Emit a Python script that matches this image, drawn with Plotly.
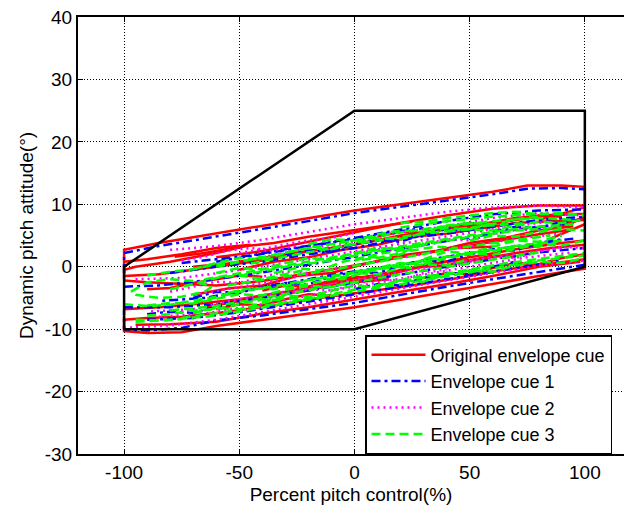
import plotly.graph_objects as go

# ---------------- data ----------------
x_ticks = [-100, -50, 0, 50, 100]
x_tick_text = ["-100", "-50", "0", "50", "100"]
y_ticks = [-30, -20, -10, 0, 10, 20, 30, 40]
y_tick_text = ["-30", "-20", "-10", "0", "10", "20", "30", "40"]

env_x = [-100, -100, 0, 100, 100, 0, -100]
env_y = [-10, 0, 25, 25, 0, -10, -10]

# Original envelope cue (strokes separated by None)
red_x = [-100, -100, -85, -60, -40, -20, 0, 20, 40, 60, 75, 90, 100, 100, None,
         100, 100, 80, 60, 40, 20, 0, -20, -40, -60, -75, -90, -100, -100, None,
         -60, -40, -20, 0, 20, 40, 60, 80, 100, 100, 85, 70, 50, 30, 10, -10, -30, -55, -70, None,
         -100, -90, -75, -60, -45, -60, -80, -95, -100, None,
         -100, -85, -70, -55, -40, -20, 0, 20, 40, 60, 80, 95, None,
         95, 80, 60, 40, 20, 0, -20, -40, -60, -75, -90, -100, None,
         -100, -85, -70, -50, -30, -10, 10, 30, 50, 70, 90, 100, None,
         100, 85, 65, 45, 25, 5, -15, -35, -55, -75, -90, -100, None,
         -95, -80, -60, -40, -20, 0, 20, 40, 60, 80, 98, None,
         -70, -55, -40, -25, -10, 5, 20, 35, 50, 65, 80, 95, None,
         -50, -35, -20, -5, 10, 25, 40, 55, 70, 85, 100, None,
         100, 85, 70, 55, 40, 25, 10, -5, -20, -35, -50, -65, None,
         80, 95, 100, None, 85, 100, None, 0, 15, None, 45, 60, None, -25, -10, None,
         -40, -30, -20, -10, 0, 10, 20, 30, 40, 50, 60, 70, None,
         -90, -80, -70, -60, -50, -40, None,
         10, 20, 30, 40, 50, 60, 70, 80, 90, None,
         30, 40, 50, 60, 70, 80, 90, 100, None,
         -60, -50, -40, -30, -20, -10, None,
         88, 96, 100, 92, 86, None,
         -78, -65, -50, -35, -20, -5, 10, 25]
red_y = [-2, 2.7, 3.8, 5.3, 6.5, 7.8, 9, 10, 11, 12, 13, 13, 12.8, 10, None,
         2, -0.3, -1.5, -2.8, -4, -5.3, -6.5, -7.5, -8.5, -9.5, -10.5, -10.6, -10.3, -8, None,
         1.5, 2.5, 4, 5.5, 7, 8.2, 9.3, 9.8, 9.8, 8.5, 8.3, 7.8, 6.5, 5.5, 4.2, 3, 2, 0.5, 0, None,
         0.8, 1.2, 2, 3, 3.5, 2.2, 0.8, 0, -0.5, None,
         -1.5, -1.2, -0.5, 0.2, 1, 2.5, 3.5, 5, 6, 7, 8, 8.5, None,
         6, 5.2, 4, 2.8, 1.5, 0.2, -1, -2.3, -3, -2.8, -2.5, -2.2, None,
         -6.8, -6.5, -6, -5.2, -4, -2.5, -1.3, 0.2, 1.5, 2.8, 3.8, 4.2, None,
         1.2, 0.5, -0.5, -1.8, -3, -4, -5, -6.2, -7.2, -8, -8.2, -8.5, None,
         -9.3, -9.2, -8.8, -7.5, -6.5, -5.2, -4, -2.8, -1.5, 0, 0.8, None,
         -4.5, -3.5, -3, -1.5, -1, 0.5, 1.8, 2.5, 3.8, 4.6, 5.8, 6.5, None,
         -0.5, 0.8, 1.5, 2.7, 3.5, 4.8, 5.3, 6.2, 7, 7.3, 7.5, None,
         3.5, 3, 2.2, 1.2, 0.8, -0.3, -1.8, -2.5, -3.8, -4.5, -5.5, -6.5, None,
         7.5, 9, 9.5, None, 4.5, 6.8, None, -2.5, -2, None, 3, 3.2, None, -3.5, -3, None,
         -3.8, -3, -3.2, -2.2, -1.6, -1.8, -0.6, 0, 0.2, 1, 1.8, 1.6, None,
         -3.6, -3.4, -2.6, -2, -1.4, -1.6, None,
         4.8, 5.6, 5.4, 6.2, 7, 6.8, 7.6, 8.2, 8, None,
         -1.8, -1, -1.2, -0.2, 0.6, 0.4, 1.4, 2, None,
         -6.8, -6, -6.2, -5.2, -4.4, -4.6, None,
         6.2, 7.4, 8, 6.6, 6, None,
         1.6, 2.2, 3.2, 3.8, 4.8, 5.6, 6.4, 7.2]

# Envelope cue 1
blue_x = [-100, -100, -85, -60, -40, -20, 0, 20, 40, 60, 75, 90, 100, None,
          100, 80, 60, 40, 20, 0, -20, -40, -60, -75, -90, -100, -100, None,
          -100, -80, -60, -40, -20, 0, 20, 40, 60, 80, 100, None,
          -100, -85, -65, -45, -25, -5, 15, 35, 55, 75, 95, None,
          -60, -40, -20, 0, 20, 40, 60, 80, 100, None,
          95, 75, 55, 35, 15, -5, -25, -45, -65, -85, None,
          -90, -70, -50, -30, -10, 10, 30, 50, 70, 90, None,
          -80, -60, -40, -20, 0, 20, 40, 60, 80, 100, None,
          -70, -60, -50, -40, -30, -20, -10, 0, 10, 20, 30, 40, 50, 60, 70, 80, 90, None,
          -30, -20, -10, 0, 10, 20, 30, 40, 50, None,
          0, 10, 20, 30, 40, 50, 60, 70, None,
          60, 70, 80, 90, 100, None,
          -90, -80, -70, -60, -50, None,
          -75, -60, -45, -30, -15, 0, 15, 30]
blue_y = [-1, 2.2, 3.3, 4.8, 6, 7.3, 8.6, 9.6, 10.6, 11.6, 12.5, 12.6, 12.4, None,
          0.3, -0.8, -2, -3.2, -4.5, -5.8, -6.8, -7.8, -8.6, -9.8, -10.2, -10, -7, None,
          -6.5, -6.5, -6, -5, -3.8, -2.5, -1.2, 0, 1.2, 2.3, 3, None,
          -3.2, -3, -2.2, -1.2, 0, 1.3, 2.5, 3.8, 5, 6.2, 7, None,
          0.8, 2, 3.3, 4.6, 6, 7.3, 8.4, 9, 9.2, None,
          4.5, 3.5, 2.5, 1.3, 0, -1, -2.3, -3.7, -5, -5.5, None,
          -8.5, -8.2, -7.3, -6.2, -5, -3.8, -2.6, -1.3, -0.2, 1, None,
          -1, 0, 0.8, 2, 3, 4.5, 5.3, 6.4, 7.5, 8, None,
          -5, -4, -4.2, -3.2, -2.6, -2.8, -1.6, -0.8, -1, 0.2, 1, 0.8, 2, 2.8, 2.6, 3.8, 4.4, None,
          1.8, 2.6, 2.4, 3.6, 4.2, 4, 5.2, 6, 5.8, None,
          -3.6, -2.8, -3, -1.8, -1, -1.2, 0, 0.8, None,
          5.6, 6.4, 6.2, 7.2, 7.6, None,
          -7.6, -7.2, -7.4, -6.4, -5.8, None,
          0.6, 1.2, 1.8, 2.8, 3.6, 4.4, 5.4, 6.2]

# Envelope cue 2
mag_x = [-80, -60, -40, -20, 0, 20, 40, 60, 80, 100, None,
         -100, -80, -60, -40, -20, 0, 20, 40, 60, 80, 100, None,
         -95, -75, -55, -35, -15, 5, 25, 45, 65, 85, None,
         90, 70, 50, 30, 10, -10, -30, -50, -70, -90, None,
         -70, -50, -30, -10, 10, 30, 50, 70, 90, None,
         -40, -20, 0, 20, 40, 60, 80, 100, None,
         -85, -65, -45, -25, -5, 15, 35, 55, 75, 95, None,
         -60, -50, -40, -30, -20, -10, 0, 10, 20, 30, 40, None,
         0, 10, 20, 30, 40, 50, 60, 70, 80, 90, None,
         -80, -70, -60, -50, -40, -30, -20, None,
         40, 50, 60, 70, 80, 90, 100, None,
         -50, -40, -30, -20, -10, 0, None,
         -75, -65, -55, -45, -35, -25]
mag_y = [2.7, 3.3, 4.3, 5.5, 6.8, 7.8, 8.8, 9.5, 9.8, 9.5, None,
         -9.8, -9.4, -8.5, -7.3, -6, -4.8, -3.5, -2.2, -1, 0.2, 1, None,
         -2, -1.8, -0.8, 0.3, 1.5, 2.8, 4, 5.2, 6.3, 7.2, None,
         3, 2, 1, -0.2, -1.5, -2.8, -4, -5.2, -6.8, -7.2, None,
         -4.5, -3.3, -2, -0.5, 0.8, 2, 3.3, 4.5, 5.3, None,
         1.5, 3, 4, 5.5, 6.5, 7.8, 8.6, 8.2, None,
         -8, -7.5, -6.3, -5, -3.5, -2.2, -1, 0.3, 1.5, 2.3, None,
         -6, -5.2, -5.4, -4.4, -3.6, -3.8, -2.8, -2, -2.2, -1, -0.4, None,
         2, 2.8, 2.6, 3.6, 4.4, 4.2, 5.2, 6, 5.8, 6.6, None,
         -4, -3.2, -2.4, -2.6, -1.6, -0.8, -1, None,
         -0.2, 0.8, 1.6, 1.4, 2.4, 3.2, 3, None,
         2.2, 2.8, 3.6, 4.2, 4.6, 5.4, None,
         1, 1.6, 2.6, 3, 2.6, 3.4]

# Envelope cue 3
green_x = [-97, -90, -80, -70, -62, -65, -75, -85, -95, -97, None,
           -60, -40, -20, 0, 20, 40, 60, 80, 95, None,
           -95, -80, -60, -40, -20, 0, 20, 40, 60, 80, 100, None,
           -65, -45, -25, -5, 15, 35, 55, 75, 95, None,
           90, 70, 50, 30, 10, -10, -30, -50, -70, None,
           -80, -60, -40, -20, 0, 20, 40, 60, 80, None,
           -50, -30, -10, 10, 30, 50, 70, 90, None,
           -45, -25, -5, 15, 35, 55, 75, None,
           -55, -35, -15, 5, 25, 45, 65, 85, None,
           -75, -55, -35, -15, 5, 25, 45, 65, 85, 100, None,
           -30, -10, 10, 30, 50, 70, None,
           -95, -85, -75, None,
           20, 40, 60, 80, 100, None,
           -90, -80, -70, -60, -50, -40, -30, -20, -10, 0, None,
           0, 10, 20, 30, 40, 50, 60, 70, 80, 90, 100, None,
           -60, -50, -40, -30, -20, -10, 0, 10, 20, 30, None,
           30, 40, 50, 60, 70, 80, 90, None,
           -40, -30, -20, -10, 0, 10, 20, 30, 40, 50, 60, None,
           -20, -10, 0, 10, 20, 30, 40, 50, 60, 70, 80, None,
           -70, -60, -50, -40, -30, -20, -10, None,
           10, 20, 30, 40, 50, 60, 70, 80, 90, 100, None,
           -90, -80, -70, -60, -50, -40, -30, None,
           -35, -25, -15, -5, 5, 15, 25, 35, 45, None,
           40, 50, 60, 70, 80, 90, 100, None,
           -10, 0, 10, 20, 30, 40, 50, None,
           0, 10, 20, 30, 20, 10, 0, None,
           50, 60, 70, 80, 90, 100, None,
           -100, -90, -80, -70, -60, -50, None,
           -55, -45, -35, -25, -15, -5, 5, 15, 25, None,
           60, 70, 80, 90, None,
           -80, -70, -60, -50, -40, -30, -20, None,
           -70, -60, -50, -40, -30, -20, -10, 0, 10, 20, 30, 40, 50, 60, None,
           -90, -80, -70, -60, -50, -40, None,
           20, 30, 40, 50, 60, 70, 80, 90, 100]
green_y = [-4, -2.5, -2, -2.3, -3.2, -4, -4.8, -5, -4.5, -4, None,
           0, 1.5, 3, 4.2, 5.5, 6.5, 7.3, 7.8, 7.5, None,
           -8.8, -8.5, -7.8, -6.5, -5.3, -4, -2.8, -1.5, -0.3, 1, 1.8, None,
           -2, -0.8, 0.5, 1.8, 3, 4.2, 5.3, 6.3, 6.8, None,
           4.2, 3.3, 2.2, 1, -0.3, -1.5, -2.8, -4, -5.8, None,
           -7, -6.3, -5, -3.8, -2.5, -1.2, 0, 1.2, 2.3, None,
           -1.5, 0, 1, 2.5, 3.5, 4.8, 5.8, 6.3, None,
           0.5, 2, 3.3, 4.5, 5.5, 6.5, 7, None,
           -3, -1.8, -0.8, 0.5, 1.8, 3, 4, 5, None,
           -8.2, -7.2, -6, -4.8, -3.3, -2, -0.8, 0.5, 1.5, 2.2, None,
           -3.5, -2, -0.5, 0.8, 2, 3.2, None,
           -8.5, -8.6, -8.4, None,
           6.3, 7.3, 8, 8.5, 8.3, None,
           -6.2, -5.8, -5.9, -5.2, -4.4, -4.6, -3.7, -3.1, -3.3, -2.2, None,
           -0.8, -0.2, 0.6, 0.4, 1.4, 2.1, 1.9, 2.9, 3.6, 3.4, 4.2, None,
           -1, -0.2, -0.4, 0.6, 1.4, 1.2, 2.2, 3, 2.8, 3.8, None,
           1.2, 2.4, 2.2, 3.2, 4.2, 4, 5, None,
           -5.6, -4.6, -4.8, -3.8, -3, -3.2, -2.2, -1.4, -1.6, -0.6, 0.2, None,
           3.6, 4.4, 4.2, 5.2, 5.8, 5.6, 6.6, 7, 6.8, 7.6, 8, None,
           -7.4, -6.6, -6.8, -5.8, -5, -5.2, -4.2, None,
           -3, -2.2, -2.4, -1.2, -0.6, -0.8, 0.2, 0.8, 0.6, 1.4, None,
           -7.8, -7.6, -7, -6.8, -6, -5.2, -5.4, None,
           -1, -0.2, -0.6, 0.8, 1.6, 1.4, 2.6, 3.2, 3, None,
           5.6, 6, 5.8, 6.6, 7.2, 7, 7.6, None,
           -1.6, -1, -1.2, -0.2, 0.4, 0.2, 1.2, None,
           1, 2, 2.6, 3.6, 2.2, 1.4, 1, None,
           4.2, 5, 4.8, 5.6, 6, 5.8, None,
           -6, -6.3, -6.1, -5.5, -4.8, -3.8, None,
           -4.2, -3.4, -3.6, -2.6, -1.8, -2, -0.8, 0, -0.2, None,
           2.4, 3.4, 3.2, 4, None,
           -3.6, -2.8, -1.8, -1.4, -2, -1.2, -0.4, None,
           -0.4, 0.6, 1.4, 1.2, 2.2, 3, 2.8, 3.8, 4.6, 4.4, 5.4, 6.2, 6, 7, None,
           -1.4, -0.8, -0.4, 0.4, 0.8, 1.6, None,
           7, 7.2, 7.8, 8.2, 8.6, 8.8, 8.4, 8.6, 8.2]

series_names = ["Original envelope cue", "Envelope cue 1", "Envelope cue 2", "Envelope cue 3"]

# ---------------- figure ----------------
FONT = "Liberation Sans, Arial, sans-serif"
fig = go.Figure()

styles = [
    (red_x, red_y, "#ff0000", "solid"),
    (blue_x, blue_y, "#0000ff", "9px,4px,3px,4px"),
    (mag_x, mag_y, "#ff00ff", "2px,4px"),
    (green_x, green_y, "#00ff00", "9px,5px"),
]
for (xs, ys, col, dash), name in zip(styles, series_names):
    fig.add_trace(go.Scatter(x=xs, y=ys, mode="lines", name=name,
                             line=dict(color=col, width=2.5, dash=dash),
                             connectgaps=False, hoverinfo="skip"))

fig.add_trace(go.Scatter(x=env_x, y=env_y, mode="lines", showlegend=False,
                         line=dict(color="black", width=2.5), hoverinfo="skip"))

fig.update_layout(
    width=624, height=508,
    margin=dict(l=78, r=0, t=17, b=54),
    paper_bgcolor="white", plot_bgcolor="white",
    font=dict(family=FONT, size=19, color="black"),
    showlegend=True,
    legend=dict(x=(365 - 78) / 546, y=0, xanchor="left", yanchor="bottom",
                bgcolor="white", bordercolor="black", borderwidth=1.5,
                font=dict(family=FONT, size=18, color="black"),
                itemwidth=54, tracegroupgap=0),
)
fig.update_xaxes(range=[-120, 117], tickvals=x_ticks, ticktext=x_tick_text,
                 showgrid=True, gridcolor="black", gridwidth=1, griddash="1px,2px",
                 zeroline=False, showline=True, linecolor="black", linewidth=2,
                 mirror="ticks", ticks="inside", ticklen=5, tickcolor="black",
                 title=dict(text="Percent pitch control(%)", standoff=6,
                            font=dict(family=FONT, size=19)),
                 tickfont=dict(family=FONT, size=19))
fig.update_yaxes(range=[-30, 40], tickvals=y_ticks, ticktext=y_tick_text,
                 showgrid=True, gridcolor="black", gridwidth=1, griddash="1px,2px",
                 zeroline=False, showline=True, linecolor="black", linewidth=2,
                 mirror=False, ticks="inside", ticklen=5, tickcolor="black",
                 title=dict(text="Dynamic pitch attitude(°)", standoff=6,
                            font=dict(family=FONT, size=19)),
                 tickfont=dict(family=FONT, size=19))

fig.write_html("out.html")
